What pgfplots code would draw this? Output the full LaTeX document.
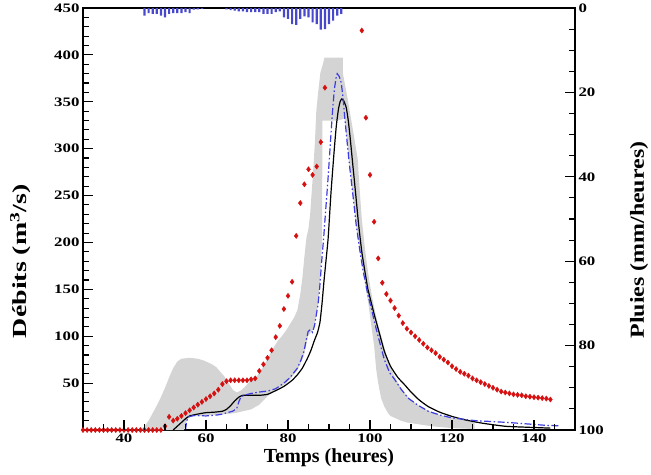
\documentclass[border=0pt]{standalone}
\usepackage{fontspec}
\setmainfont{Liberation Serif}
\newfontfamily\tickfont{Liberation Serif}[FakeStretch=1.3]
\newfontfamily\ylabfont{Liberation Serif}[FakeStretch=1.4]
\newfontfamily\ylabfontb{Liberation Serif}[FakeStretch=1.2]
\usepackage{pgfplots}
\pgfplotsset{compat=1.18}
\definecolor{obsred}{RGB}{214,16,16}
\definecolor{simblue}{RGB}{60,60,225}
\definecolor{rainblue}{RGB}{72,72,205}
\definecolor{bandgray}{RGB}{212,212,212}
\pgfplotsset{
  hydro/.style={
    scale only axis, width=492bp, height=422bp,
    at={(0,0)}, anchor=south west,
    xmin=30, xmax=150,
    axis line style={line width=1.4bp},
    major tick length=10bp, minor tick length=6bp,
    tick style={black, line width=1.1bp},
    tick align=inside,
    /pgf/number format/assume math mode=true,
    tick label style={font=\tickfont\bfseries\fontsize{13}{13}\selectfont},
    label style={font=\bfseries\fontsize{20}{20}\selectfont},
  },
}

\begin{document}
\begin{tikzpicture}
\useasboundingbox (-83bp,-45bp) rectangle (568bp,430bp);
% debits
\begin{axis}[hydro,
  ymin=0, ymax=450,
  xtick={40,60,...,140}, minor x tick num=3,
  ytick={50,100,...,450}, minor y tick num=4,
  xtick pos=bottom, ytick pos=left,
  xlabel={Temps (heures)},
  ylabel={\ylabfont Débits (m\textsuperscript{3}/s)},
  xlabel style={at={(axis description cs:0.5,-0.078)}, anchor=base},
  ylabel style={at={(axis description cs:-0.114,0.40)}, anchor=base},
  clip mode=individual,
]
% enveloppe des simulations
\addplot[fill=bandgray, draw=none] coordinates {
  (44,0) (45,4) (46,10) (47,18) (48,26) (49,35) (50,45) (51,56) (52,66) (53,73)
  (54,76) (56,77) (58,76) (59.5,74) (60.5,72) (61.5,70) (62.5,67) (63.5,62)
  (64.5,57) (65.5,50) (66.5,43) (67.5,40) (68.5,42) (69.5,46) (70.5,51) (71.5,55)
  (72.5,58) (73.5,64) (74.5,72) (75.5,80) (76.5,88) (77.5,95) (78.5,100) (79.5,106)
  (80.5,113) (81.5,120) (82.3,128) (83,145) (83.5,162) (84,185) (84.5,205) (85,215)
  (85.4,230) (85.8,255) (86.2,280) (86.6,310) (86.9,340) (87.4,362) (87.9,381)
  (88.5,390) (88.9,397) (93.4,397) (93.4,380) (94,366) (94.6,352) (95.2,336)
  (95.8,321) (96.4,305) (97,289) (97.5,255) (98,225) (98.6,200) (99.2,178)
  (99.8,160) (100.5,142) (101.3,125) (102,112) (103,96) (104,80) (105,67) (106,57)
  (107.5,45) (109.3,35) (111.5,27) (114,21) (117,16) (120,13) (123,10.5) (125.5,8)
  (125.5,1) (120,2) (115,4) (112,6) (109,8) (107.5,10) (106,13) (105,15) (104.4,18)
  (103.5,25) (102.7,34) (102,50) (101.5,65) (101,90) (100.3,112) (99.6,135) (99,150)
  (98.3,170) (97.4,195) (96.6,220) (95.8,252) (95,282) (94.4,308) (93.8,332)
  (92,330) (88.4,330) (88.3,200) (87.7,150) (87.3,133) (86.8,120) (86.3,108)
  (85.5,104) (84.9,100) (84.5,92) (83.9,80) (83.2,72) (82.3,64) (80.5,54) (79,48)
  (77,43) (75,36) (73,27) (71,22) (69,20) (67,18) (65,17) (62,16) (58,15) (56,14)
  (55.3,10) (55,4) (54.6,0)
};
% simulation 1
\addplot[black, line width=1.2bp, smooth, tension=0.3] coordinates {
  (52,0) (53,4) (54,8) (55,12) (56,15) (58,17) (60,18.5) (62,19) (64,20) (65,22)
  (66,26) (67,31) (68,35) (69,37) (71,37) (73,37) (75,38) (77,42) (79,46.5) (81,53)
  (82.3,59) (83.5,66) (84.8,77) (85.6,85) (86.4,95) (87.2,104) (87.8,115) (88.3,135)
  (88.8,160) (89.3,182) (89.8,205) (90.5,254) (91.3,300) (91.8,325) (92.3,342)
  (92.7,350) (93.1,353) (93.6,351) (94.2,344) (94.7,330) (95.2,310) (95.8,283)
  (96.5,252) (97.2,220) (98,190) (98.8,168) (99.5,150) (100.3,136) (101.1,122)
  (102.3,103) (103.5,84) (105,68) (106.8,56) (108.5,48) (110.1,40) (112,32)
  (114.2,25) (117,19) (119.9,14.6) (123,11) (127.2,7.4) (132.9,4) (138,3) (144,2)
};
% simulation 2
\addplot[simblue, line width=1.2bp, dash pattern=on 7bp off 2.5bp on 1.5bp off 2.5bp] coordinates {
  (55,0) (55.3,10) (55.8,14) (57,15.5) (60,15) (62.7,16) (64,17) (65.2,18.5)
  (66.5,20) (67.5,23) (68,30) (68.5,35) (69.3,37) (71,39) (73,40.5) (75,41.5)
  (77,44) (79,50) (80.5,56) (82.3,66) (83.2,75) (83.9,84) (84.5,97) (84.9,105)
  (85.4,107) (86,104) (86.5,112) (86.8,120) (87.3,133) (87.7,150) (88.2,179)
  (88.7,205) (89.2,235) (89.7,264) (90.1,290) (90.5,317) (90.9,342) (91.3,363)
  (91.7,375) (92,380) (92.5,377) (93,370) (93.4,355) (93.8,335) (94.4,308) (95,282)
  (95.8,252) (96.6,220) (97.4,195) (98.3,170) (99.5,144) (100.3,130) (101.5,108)
  (102.7,88) (103.5,75) (104.8,61) (106,54) (107.5,44) (109.3,34) (111.5,27)
  (114.2,20) (117,16) (119.9,13) (125.6,10) (133.8,8) (142.8,5) (146,4.5)
};
% debits observes
\addplot[only marks, mark=diamond*, mark size=2.6bp, obsred] coordinates {
  (30,0) (31,0) (32,0) (33,0) (34,0) (35,0) (36,0) (37,0) (38,0) (39,0)
  (40,0) (41,0) (42,0) (43,0) (44,0) (45,0) (46,0) (47,0) (48,0) (49,0)
  (50,4) (51,14) (52,10) (53,12) (54,15) (55,18) (56,21) (57,24) (58,27) (59,30)
  (60,33) (61,36) (62,39) (63,43) (64,49) (65,52) (66,53) (67,53) (68,53) (69,53)
  (70,53) (71,54) (72,55) (73,63) (74,70) (75,77) (76,85) (77,99) (78,111) (79,129)
  (80,143) (81,158) (82,207) (83,242) (84,262) (85,278) (86,272) (87,281) (88,307)
  (89,365) (98,426) (99,333) (100,272) (101,222) (102,183) (103,157) (104,145)
  (105,138) (106,130) (107,122) (108,114) (109,108) (110,104) (111,100) (112,96)
  (113,92) (114,88) (115,85) (116,82) (117,78) (118,75) (119,72) (120,68) (121,65)
  (122,62) (123,60) (124,58) (125,55) (126,53) (127,51) (128,49) (129,47) (130,45)
  (131,43) (132,41) (133,40) (134,39) (135,38) (136,37.5) (137,37) (138,36)
  (139,35.5) (140,35) (141,34.5) (142,34) (143,33.5) (144,32.5)
};
% graduations (extremites en coordonnees d'axe)
\pgfplotsinvokeforeach{1,...,9}{
  \draw[line width=1.1bp] (axis cs:30,{#1*50}) -- (axis cs:32.44,{#1*50});}
\pgfplotsinvokeforeach{1,...,44}{
  \draw[line width=1.1bp] (axis cs:30,{#1*10}) -- (axis cs:31.46,{#1*10});}
\pgfplotsinvokeforeach{2,...,7}{
  \draw[line width=1.1bp] (axis cs:{#1*20},0) -- (axis cs:{#1*20},10.66);}
\pgfplotsinvokeforeach{1,...,23}{
  \draw[line width=1.1bp] (axis cs:{30+#1*5},0) -- (axis cs:{30+#1*5},6.4);}
\pgfplotsinvokeforeach{0,...,5}{
  \draw[line width=1.1bp] (axis cs:150,{450-#1*90}) -- (axis cs:147.56,{450-#1*90});}
\pgfplotsinvokeforeach{1,...,19}{
  \draw[line width=1.1bp] (axis cs:150,{450-#1*22.5}) -- (axis cs:148.54,{450-#1*22.5});}
\end{axis}
% pluies
\begin{axis}[hydro,
  axis x line=none, axis y line*=right,
  ymin=0, ymax=100, y dir=reverse,
  ytick={0,20,...,100}, minor y tick num=3,
  ylabel={\ylabfontb Pluies (mm/heures)},
  ylabel style={at={(axis description cs:1.14,0.45)}, anchor=base},
]
\addplot[ybar, bar width=2.2bp, bar shift=0pt, fill=rainblue, draw=none] coordinates {
  (45,1.8) (46,1.2) (47,1.4) (48,1.4) (49,1.8) (50,2.2) (51,1.4) (52,1.2) (53,1.2)
  (54,1.2) (55,1.0) (56,1.2) (57,0.4) (58,0.3) (59,0.2)
  (65,0.3) (66,0.5) (67,0.6) (68,0.8) (69,0.8) (70,1.0) (71,1.0) (72,1.0) (73,1.0)
  (74,1.4) (75,1.4) (76,1.4) (77,1.0) (78,0.8) (79,2.2) (80,2.6) (81,3.8) (82,4.0)
  (83,2.6) (84,2.0) (85,2.2) (86,3.4) (87,3.8) (88,5.1) (89,5.0) (90,3.8) (91,3.0)
  (92,1.8) (93,1.4)
};
\end{axis}
\end{tikzpicture}
\end{document}
